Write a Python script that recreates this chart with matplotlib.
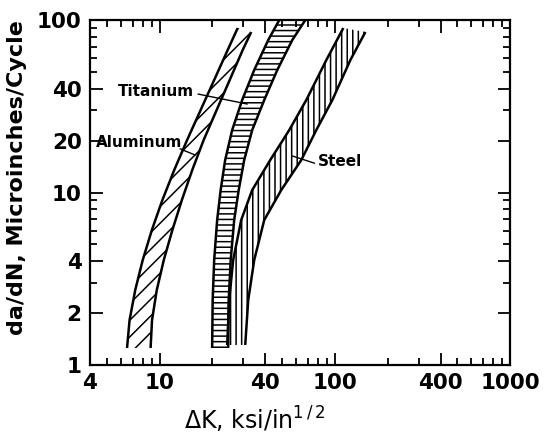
import matplotlib
matplotlib.use("Agg")
import matplotlib.pyplot as plt
from matplotlib.patches import Polygon
from matplotlib.ticker import FixedLocator, NullFormatter

# ---------------------------------------------------------------
# Band edges (delta K in ksi*in^0.5, da/dN in uin/cycle)
# ---------------------------------------------------------------
al_left_k  = [6.51, 6.73, 7.25, 8.00, 9.02, 10.36, 12.10, 14.33, 17.12, 20.45, 24.42, 27.86]
al_left_r  = [1.255, 1.823, 2.721, 4.062, 6.063, 9.050, 13.50, 20.15, 30.08, 44.89, 67.00, 89.87]
al_right_k = [8.87, 9.04, 9.62, 10.55, 11.81, 13.38, 15.33, 17.81, 21.13, 25.07, 29.75, 33.27]
al_right_r = [1.255, 1.823, 2.721, 4.062, 6.063, 9.050, 13.50, 20.15, 30.08, 44.89, 67.00, 85.20]

ti_left_k  = [19.91, 20.05, 20.45, 21.27, 22.27, 23.63, 25.91, 29.55, 34.61, 41.61, 48.1]
ti_left_r  = [1.255, 2.381, 4.062, 6.928, 10.34, 15.43, 23.03, 34.38, 51.31, 76.57, 100.0]
ti_right_k = [24.58, 24.75, 25.41, 26.60, 28.23, 30.34, 33.71, 39.48, 46.85, 57.06, 67.71]
ti_right_r = [1.255, 2.381, 4.062, 6.928, 10.34, 15.43, 23.03, 34.38, 51.31, 76.57, 100.0]

st_left_k  = [24.26, 24.91, 26.25, 29.17, 33.71, 42.72, 54.85, 68.60, 89.26, 111.6]
st_left_r  = [1.306, 2.381, 4.062, 6.928, 10.34, 15.43, 23.03, 34.38, 58.64, 89.87]
st_right_k = [30.75, 31.99, 34.61, 39.48, 49.38, 64.23, 78.24, 96.61, 122.4, 149.1]
st_right_r = [1.306, 2.381, 4.062, 6.928, 10.34, 15.43, 23.03, 34.38, 58.64, 85.20]

x_major = [4, 10, 40, 100, 400, 1000]
x_minor = [5, 6, 7, 8, 9, 20, 30, 50, 60, 70, 80, 90,
           200, 300, 500, 600, 700, 800, 900]
y_major = [1, 2, 4, 10, 20, 40, 100]
y_minor = [3, 5, 6, 7, 8, 9, 30, 50, 60, 70, 80, 90]

plt.rcParams["hatch.linewidth"] = 1.1
plt.rcParams["font.family"] = ["DejaVu Sans"]

fig = plt.figure(figsize=(5.53, 4.42), dpi=100)
ax = fig.add_axes([0.1627, 0.1742, 0.760, 0.7805])
ax.set_xscale("log")
ax.set_yscale("log")
ax.set_xlim(4, 1000)
ax.set_ylim(1, 100)


def band(lk, lr, rk, rr, hatch):
    pts = list(zip(lk, lr)) + list(zip(rk, rr))[::-1]
    ax.add_patch(Polygon(pts, closed=True, facecolor="none",
                         edgecolor="black", linewidth=0, hatch=hatch))
    ax.plot(lk, lr, color="black", linewidth=1.8, solid_capstyle="butt")
    ax.plot(rk, rr, color="black", linewidth=1.8, solid_capstyle="butt")


band(al_left_k, al_left_r, al_right_k, al_right_r, "//")
band(ti_left_k, ti_left_r, ti_right_k, ti_right_r, "---")
band(st_left_k, st_left_r, st_right_k, st_right_r, "|||")

# labels with leader lines
lab = dict(fontsize=11, fontweight="bold", va="center", ha="left")
ax.text(5.78, 38.3, "Titanium", **lab)
ax.plot([16.6, 31.5], [37.2, 32.6], color="black", linewidth=1.0)
ax.text(4.33, 19.4, "Aluminum", **lab)
ax.plot([13.1, 15.9], [17.9, 16.5], color="black", linewidth=1.0)
ax.text(79.5, 15.2, "Steel", **lab)
ax.plot([76.2, 57.0], [14.8, 16.3], color="black", linewidth=1.0)

# axes decoration
ax.xaxis.set_major_locator(FixedLocator(x_major))
ax.xaxis.set_minor_locator(FixedLocator(x_minor))
ax.yaxis.set_major_locator(FixedLocator(y_major))
ax.yaxis.set_minor_locator(FixedLocator(y_minor))
ax.set_xticklabels([str(v) for v in x_major])
ax.set_yticklabels([str(v) for v in y_major])
ax.xaxis.set_minor_formatter(NullFormatter())
ax.yaxis.set_minor_formatter(NullFormatter())
ax.tick_params(which="both", direction="in", top=True, right=True, width=1.3)
ax.tick_params(which="major", length=9, labelsize=15.5, pad=6)
ax.tick_params(which="minor", length=5)
for lbl in ax.get_xticklabels() + ax.get_yticklabels():
    lbl.set_fontweight("bold")
for s in ax.spines.values():
    s.set_linewidth(1.6)

ax.set_ylabel("da/dN, Microinches/Cycle", fontsize=16, fontweight="bold")
ax.yaxis.set_label_coords(-0.15, 0.542)
ax.set_xlabel(r"$\Delta$K, ksi/in$^{1\,/\,2}$", fontsize=17)
ax.xaxis.set_label_coords(0.393, -0.115)

fig.savefig("out.png", dpi=100)
